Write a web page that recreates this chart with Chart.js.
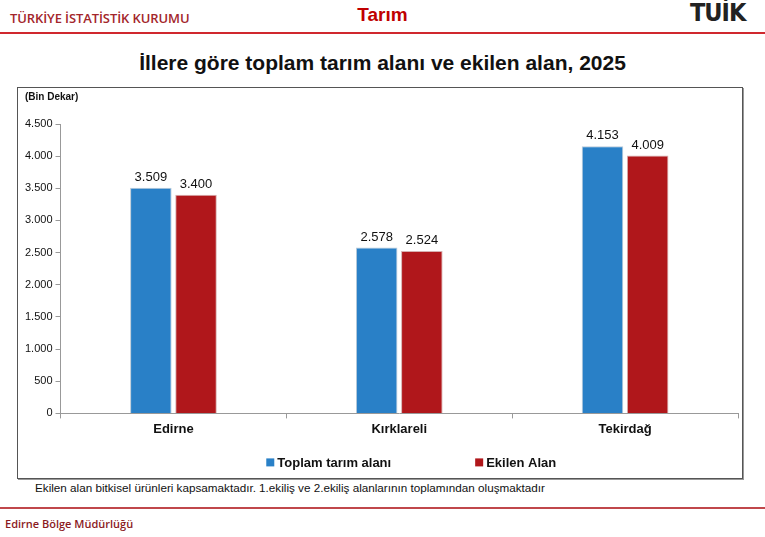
<!DOCTYPE html>
<html>
<head>
<meta charset="utf-8">
<script src="https://cdn.jsdelivr.net/npm/chart.js@4"></script>
<style>
  body { margin:0; width:765px; height:537px; background:#fff; position:relative; overflow:hidden;
         font-family:"Liberation Sans", Arial, sans-serif; }
  .abs { position:absolute; white-space:nowrap; }
  #kurum { left:10px; top:9px; font:600 13px "Open Sans", sans-serif; color:#a3262b; letter-spacing:-0.1px; }
  #konu { left:0; width:765px; text-align:center; top:4px; font:bold 19px "Liberation Sans", Arial; color:#c00000; }
  #logo { left:690px; top:-2px; font:bold 25px "DejaVu Sans Condensed", sans-serif; color:#222; letter-spacing:-1px; }
  #ustcizgi { left:0; top:32px; width:765px; height:2px; background:#d0282e; }
  #baslik { left:0; width:765px; text-align:center; top:51px; font:bold 21px "Liberation Sans", Arial; color:#111; }
  #kutu { left:17px; top:87px; width:724px; height:390px; border:1px solid #555; box-shadow:1px 1px 0 #999; }
  #birim { left:25px; top:91px; font:bold 10px "Liberation Sans", Arial; color:#111; }
  #dipnot { left:35px; top:481px; font:11.7px "Liberation Sans", Arial; color:#111; }
  #altcizgi { left:0; top:507px; width:765px; height:2px; background:#c0474b; }
  #bolge { left:5px; top:516px; font:600 11px "Open Sans", sans-serif; color:#8b1a1e; }
</style>
</head>
<body>
<div class="abs" id="kurum">TÜRKİYE İSTATİSTİK KURUMU</div>
<div class="abs" id="konu">Tarım</div>
<div class="abs" id="logo">TÜİK</div>
<div class="abs" id="ustcizgi"></div>
<div class="abs" id="baslik">İllere göre toplam tarım alanı ve ekilen alan, 2025</div>
<div class="abs" id="kutu"><canvas id="myChart" width="724" height="390"></canvas></div>
<div class="abs" id="birim">(Bin Dekar)</div>
<div class="abs" id="dipnot">Ekilen alan bitkisel ürünleri kapsamaktadır. 1.ekiliş ve 2.ekiliş alanlarının toplamından oluşmaktadır</div>
<div class="abs" id="altcizgi"></div>
<div class="abs" id="bolge">Edirne Bölge Müdürlüğü</div>

<script>
// iller ve degerler (bin dekar)
var iller = ["Edirne", "Kırklareli", "Tekirdağ"];
var toplamTarim = [3509, 2578, 4153];
var ekilenAlan = [3400, 2524, 4009];
var yEksen = [0, 500, 1000, 1500, 2000, 2500, 3000, 3500, 4000, 4500];

function nokta(v) {
    return String(v).replace(/\B(?=(\d{3})+(?!\d))/g, ".");
}

var yazi = '"Liberation Sans", Arial';

// bar ustune deger yaz
var degerYaz = {
    id: 'degerYaz',
    afterDatasetsDraw: function(chart) {
        var ctx = chart.ctx;
        ctx.save();
        ctx.font = '13px ' + yazi;
        ctx.fillStyle = '#111';
        ctx.textAlign = 'center';
        ctx.textBaseline = 'bottom';
        chart.data.datasets.forEach(function(ds, i) {
            chart.getDatasetMeta(i).data.forEach(function(bar, j) {
                ctx.fillText(nokta(ds.data[j]), bar.x, bar.y - 4);
            });
        });
        ctx.restore();
    }
};

// alttaki lejant, kutular arasi bosluk genis oldugu icin elle
var lejant = {
    id: 'lejant',
    afterDraw: function(chart) {
        var ctx = chart.ctx;
        var a = chart.chartArea;
        ctx.save();
        ctx.font = 'bold 13px ' + yazi;
        ctx.textBaseline = 'middle';
        var y = a.bottom + 49;
        var ara = 84;
        var w = 0;
        chart.data.datasets.forEach(function(ds) { w += 11 + ctx.measureText(ds.label).width; });
        w += ara * (chart.data.datasets.length - 1);
        var x = (a.left + a.right) / 2 + 12 - w / 2;
        chart.data.datasets.forEach(function(ds) {
            ctx.fillStyle = ds.backgroundColor;
            ctx.fillRect(x, y - 4, 8, 8);
            ctx.fillStyle = '#111';
            ctx.fillText(ds.label, x + 11, y + 1);
            x += 11 + ctx.measureText(ds.label).width + ara;
        });
        ctx.restore();
    }
};

var ctx = document.getElementById("myChart").getContext('2d');
var mixedChart = new Chart(ctx, {
    type: 'bar',
    data: {
        labels: iller,
        datasets: [{
            label: "Toplam tarım alanı",
            backgroundColor: '#2980c7',
            borderColor: '#b9c9d8',
            borderWidth: 1,
            data: toplamTarim
        }, {
            label: "Ekilen Alan",
            backgroundColor: '#b0171b',
            borderColor: '#d6b0b0',
            borderWidth: 1,
            data: ekilenAlan
        }]
    },
    options: {
        responsive: false,
        animation: false,
        layout: { padding: { left: 4, right: 4, top: 36, bottom: 38 } },
        datasets: { bar: { categoryPercentage: 0.4, barPercentage: 0.92 } },
        plugins: {
            tooltip: { enabled: false },
            legend: { display: false }
        },
        scales: {
            x: {
                grid: { offset: true, drawOnChartArea: false, tickLength: 5, color: '#999' },
                border: { color: '#999' },
                ticks: { color: '#111', padding: 3, font: { family: yazi, size: 13, weight: 'bold' } }
            },
            y: {
                min: yEksen[0],
                max: yEksen[yEksen.length - 1],
                afterBuildTicks: function(axis) {
                    axis.ticks = yEksen.map(function(v) { return { value: v }; });
                },
                grid: { drawOnChartArea: false, tickLength: 5, color: '#999' },
                border: { color: '#999' },
                ticks: {
                    color: '#111', padding: 3,
                    font: { family: yazi, size: 11 },
                    callback: function(v) { return nokta(v); }
                }
            }
        }
    },
    plugins: [degerYaz, lejant]
});
</script>
</body>
</html>
